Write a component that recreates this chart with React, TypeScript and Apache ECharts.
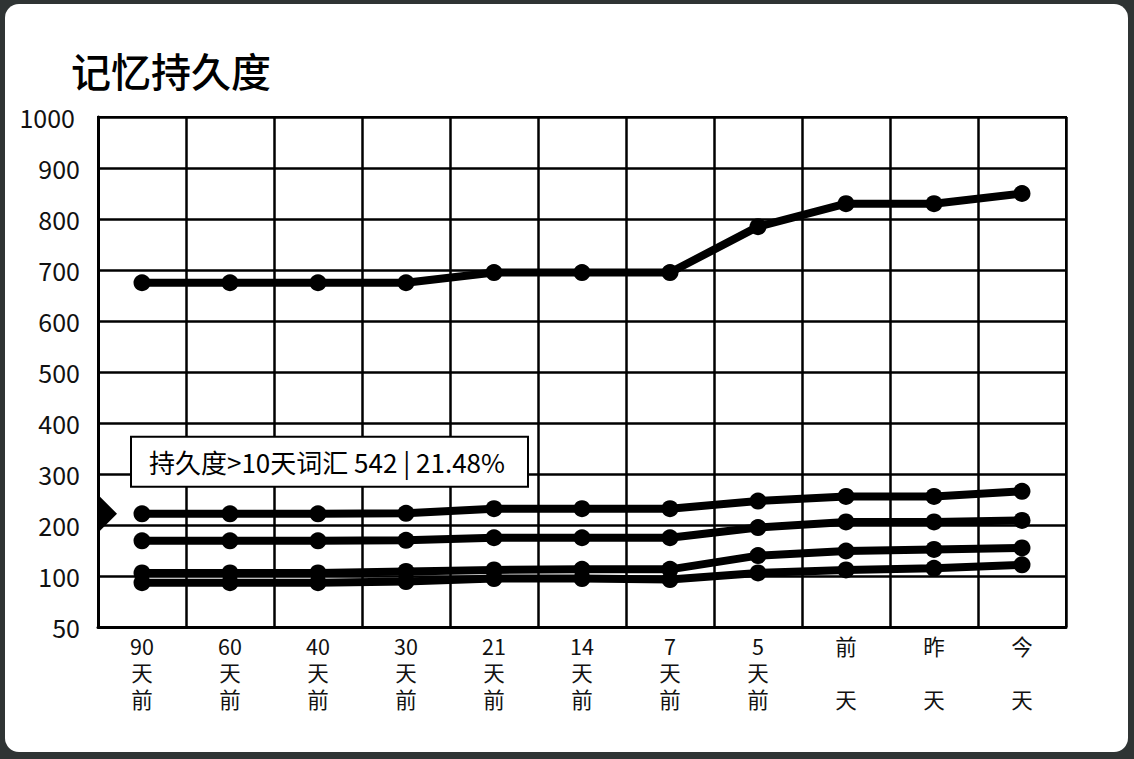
import React, { useEffect, useRef } from "react";
import * as echarts from "echarts";

const categories = ["90天前", "60天前", "40天前", "30天前", "21天前", "14天前", "7天前", "5天前", "前天", "昨天", "今天"];
const seriesA = [675, 675, 675, 675, 695, 695, 695, 785, 830, 830, 850];
const seriesB = [222, 222, 222, 223, 232, 232, 232, 247, 256, 256, 266];
const seriesC = [169, 169, 169, 170, 175, 175, 175, 195, 206, 206, 209];
const seriesD = [106, 106, 106, 109, 112, 113, 113, 140, 149, 152, 155];
const seriesE = [87, 87, 87, 89, 95, 95, 93, 106, 112, 115, 122];
const yTicks = [0, 100, 200, 300, 400, 500, 600, 700, 800, 900, 1000];
const yTickLabels = ["50", "100", "200", "300", "400", "500", "600", "700", "800", "900", "1000"];
const titleText = "记忆持久度";
const tipText = "持久度>10天词汇 542 | 21.48%";

const FONT = "'Noto Sans CJK SC', 'Noto Sans', sans-serif";

function splitLabel(s: string): string {
  const m = s.match(/^(\d+)(.*)$/);
  if (m) return [m[1], ...m[2].split("")].join("\n");
  const chars = s.split("");
  return [chars[0], "", chars[1]].join("\n");
}

export default function App() {
  const ref = useRef<HTMLDivElement>(null);
  useEffect(() => {
    if (!ref.current) return;
    const chart = echarts.init(ref.current, undefined, { renderer: "svg" });
    const mk = (data: number[]) => ({
      type: "line",
      data,
      symbol: "circle",
      symbolSize: 17,
      showSymbol: true,
      lineStyle: { color: "#000", width: 8 },
      itemStyle: { color: "#000" },
      emphasis: { disabled: true },
      z: 5,
    });
    chart.setOption({
      animation: false,
      textStyle: { fontFamily: FONT },
      title: {
        text: titleText,
        left: 66,
        top: 45,
        textStyle: { fontFamily: FONT, fontSize: 40, fontWeight: 500, color: "#000" },
      },
      grid: {
        left: 98,
        top: 117,
        right: 68,
        bottom: 132,
        show: true,
        borderColor: "#000",
        borderWidth: 2,
        backgroundColor: "transparent",
      },
      xAxis: {
        type: "category",
        data: categories,
        boundaryGap: true,
        axisLine: { show: true, lineStyle: { color: "#000", width: 3 } },
        axisTick: { show: false },
        splitLine: { show: true, lineStyle: { color: "#000", width: 2.5 } },
        axisLabel: {
          interval: 0,
          margin: 5,
          fontSize: 21.5,
          lineHeight: 26.5,
          color: "#111",
          fontFamily: FONT,
          formatter: (v: string) => splitLabel(v),
        },
      },
      yAxis: {
        type: "value",
        min: 0,
        max: 1000,
        interval: 100,
        axisLine: { show: true, lineStyle: { color: "#000", width: 3 } },
        axisTick: { show: false },
        splitLine: { show: true, lineStyle: { color: "#000", width: 2.5 } },
        axisLabel: {
          margin: 18,
          fontSize: 25,
          color: "#111",
          fontFamily: FONT,
          formatter: (v: number) => {
            const i = yTicks.indexOf(v);
            const t = i >= 0 ? yTickLabels[i] : String(v);
            return t.length >= 4 ? "{w|" + t + "}" : t;
          },
          rich: { w: { fontSize: 25, color: "#111", fontFamily: FONT, padding: [0, 5, 0, 0] } },
        },
      },
      series: [mk(seriesA), mk(seriesB), mk(seriesC), mk(seriesD), mk(seriesE)],
    });
    const py = chart.convertToPixel({ yAxisIndex: 0 }, seriesB[0]) as number;
    const ax = chart.convertToPixel({ xAxisIndex: 0 }, categories[0]) as number;
    const axisX = 98;
    chart.setOption({
      graphic: [
        {
          type: "polygon",
          z: 100,
          shape: { points: [[axisX, py - 19], [axisX + 19, py], [axisX, py + 19]] },
          style: { fill: "#000" },
        },
        {
          type: "group",
          z: 100,
          x: ax - 11,
          y: py - 77,
          children: [
            {
              type: "rect",
              shape: { x: 0, y: 0, width: 397, height: 50 },
              style: { fill: "#fff", stroke: "#000", lineWidth: 2 },
            },
            {
              type: "text",
              x: 18,
              y: 25,
              style: {
                text: tipText,
                fontSize: 26,
                fontFamily: FONT,
                fill: "#000",
                verticalAlign: "middle",
                align: "left",
              },
            },
          ],
        },
      ],
    });
    return () => chart.dispose();
  }, []);
  return (
    <div style={{ position: "fixed", left: 0, top: 0, width: 1134, height: 759, background: "#2f3434" }}>
      <div
        style={{
          position: "absolute",
          left: 5,
          top: 4,
          width: 1123,
          height: 748,
          background: "#fff",
          borderRadius: 14,
        }}
      />
      <div ref={ref} style={{ position: "absolute", left: 0, top: 0, width: 1134, height: 759 }} />
    </div>
  );
}
